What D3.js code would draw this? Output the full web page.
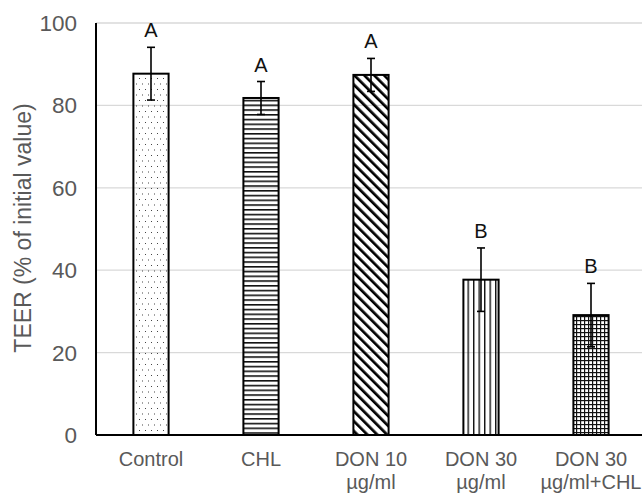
<!DOCTYPE html>
<html>
<head>
<meta charset="utf-8">
<title>TEER</title>
<script src="https://d3js.org/d3.v7.min.js"></script>
<style>
  body { margin: 0; background: #fff; }
  text { font-family: "Liberation Sans", Arial, sans-serif; }
</style>
</head>
<body>
<svg id="chart"></svg>
<script>
// data
var categories = ["Control", "CHL", "DON 10|µg/ml", "DON 30|µg/ml", "DON 30|µg/ml+CHL"];
var means = [87.7, 81.8, 87.4, 37.7, 29.1];
var errors = [6.4, 4.0, 4.0, 7.7, 7.7];
var letters = ["A", "A", "A", "B", "B"];
var patterns = ["dots", "hlines", "diag", "vlines", "grid"];
var yTicks = [0, 20, 40, 60, 80, 100];

var width = 642, height = 495;
var plotLeft = 96, plotRight = 646, plotTop = 23, plotBottom = 435;

var svg = d3.select("#chart").attr("width", width).attr("height", height);

// fill patterns
var defs = svg.append("defs");
var p;
p = defs.append("pattern").attr("id", "dots").attr("patternUnits", "userSpaceOnUse")
  .attr("width", 6).attr("height", 11);
p.append("rect").attr("x", 1).attr("y", 1).attr("width", 1).attr("height", 1).attr("fill", "#444");
p.append("rect").attr("x", 4).attr("y", 6.5).attr("width", 1).attr("height", 1).attr("fill", "#444");

p = defs.append("pattern").attr("id", "hlines").attr("patternUnits", "userSpaceOnUse")
  .attr("width", 8).attr("height", 4.75);
p.append("rect").attr("width", 8).attr("height", 1.6).attr("fill", "#111");

p = defs.append("pattern").attr("id", "diag").attr("patternUnits", "userSpaceOnUse")
  .attr("width", 7).attr("height", 7).attr("patternTransform", "rotate(-45)");
p.append("rect").attr("width", 2.7).attr("height", 7).attr("fill", "#000");

p = defs.append("pattern").attr("id", "vlines").attr("patternUnits", "userSpaceOnUse")
  .attr("width", 5.5).attr("height", 8);
p.append("rect").attr("width", 1.4).attr("height", 8).attr("fill", "#111");

p = defs.append("pattern").attr("id", "grid").attr("patternUnits", "userSpaceOnUse")
  .attr("width", 4).attr("height", 4);
p.append("rect").attr("width", 1.2).attr("height", 4).attr("fill", "#111");
p.append("rect").attr("width", 4).attr("height", 1.2).attr("fill", "#111");

var x = d3.scaleBand().domain(categories).range([plotLeft, plotRight]).paddingInner(0.68).paddingOuter(0.34);
var y = d3.scaleLinear().domain([0, 100]).range([plotBottom, plotTop]);

// gridlines
svg.append("g").selectAll("line").data(yTicks.slice(1)).join("line")
  .attr("x1", plotLeft).attr("x2", plotRight)
  .attr("y1", function (d) { return y(d); }).attr("y2", function (d) { return y(d); })
  .attr("stroke", "#d9d9d9").attr("stroke-width", 1.3);

// y tick labels
svg.append("g").selectAll("text").data(yTicks).join("text")
  .attr("x", 77).attr("y", function (d) { return y(d) + 8; })
  .attr("text-anchor", "end").attr("font-size", 22.5).attr("fill", "#595959")
  .text(function (d) { return d; });

// y axis title
svg.append("text")
  .attr("transform", "translate(31,228) rotate(-90)")
  .attr("text-anchor", "middle").attr("font-size", 23).attr("fill", "#595959")
  .text("TEER (% of initial value)");

// bars
svg.append("g").selectAll("rect").data(categories).join("rect")
  .attr("x", function (d) { return x(d); })
  .attr("y", function (d, i) { return y(means[i]); })
  .attr("width", x.bandwidth())
  .attr("height", function (d, i) { return y(0) - y(means[i]); })
  .attr("fill", function (d, i) { return "url(#" + patterns[i] + ")"; })
  .attr("stroke", "#000").attr("stroke-width", 2);

// error bars
var eb = svg.append("g").attr("stroke", "#000").attr("stroke-width", 1.6);
categories.forEach(function (c, i) {
  var cx = x(c) + x.bandwidth() / 2;
  var y1 = y(means[i] + errors[i]), y2 = y(means[i] - errors[i]);
  eb.append("line").attr("x1", cx).attr("x2", cx).attr("y1", y1).attr("y2", y2);
  eb.append("line").attr("x1", cx - 4).attr("x2", cx + 4).attr("y1", y1).attr("y2", y1);
  eb.append("line").attr("x1", cx - 4).attr("x2", cx + 4).attr("y1", y2).attr("y2", y2);
});

// significance letters
svg.append("g").selectAll("text").data(categories).join("text")
  .attr("x", function (d) { return x(d) + x.bandwidth() / 2; })
  .attr("y", function (d, i) { return y(means[i] + errors[i]) - 10; })
  .attr("text-anchor", "middle").attr("font-size", 20).attr("fill", "#111")
  .text(function (d, i) { return letters[i]; });

// axes lines
svg.append("line").attr("x1", plotLeft).attr("x2", plotLeft).attr("y1", plotTop).attr("y2", plotBottom)
  .attr("stroke", "#000").attr("stroke-width", 2);
svg.append("line").attr("x1", plotLeft).attr("x2", plotRight).attr("y1", plotBottom).attr("y2", plotBottom)
  .attr("stroke", "#000").attr("stroke-width", 2);

// category labels
var cl = svg.append("g").selectAll("text").data(categories).join("text")
  .attr("text-anchor", "middle").attr("font-size", 20).attr("fill", "#595959")
  .attr("transform", function (d) { return "translate(" + (x(d) + x.bandwidth() / 2) + ",466)"; });
cl.each(function (d) {
  var t = d3.select(this);
  d.split("|").forEach(function (part, k) {
    t.append("tspan").attr("x", 0).attr("y", k * 23).text(part);
  });
});
</script>
</body>
</html>
